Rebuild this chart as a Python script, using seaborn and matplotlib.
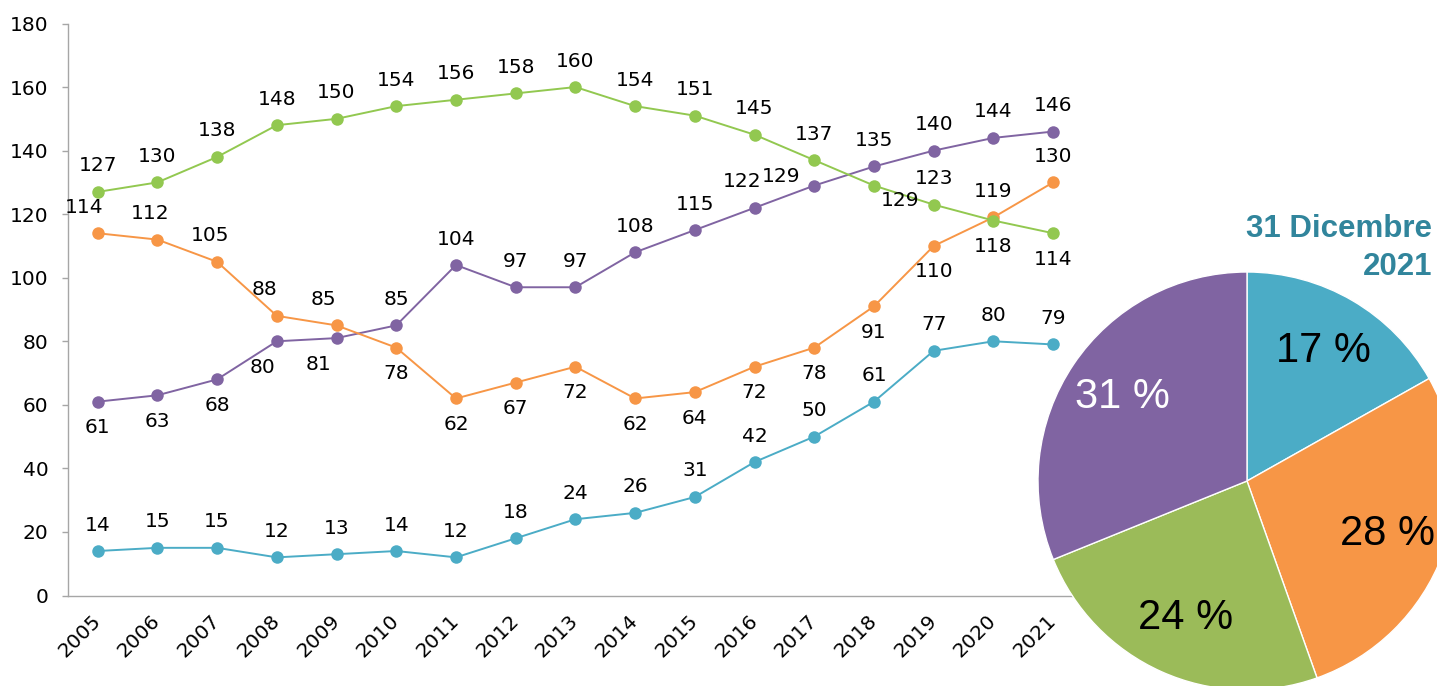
import matplotlib
matplotlib.use('Agg')
import matplotlib.pyplot as plt
import pandas as pd
import seaborn as sns

# Data
years = ['2005', '2006', '2007', '2008', '2009', '2010', '2011', '2012', '2013',
         '2014', '2015', '2016', '2017', '2018', '2019', '2020', '2021']
blue = [14, 15, 15, 12, 13, 14, 12, 18, 24, 26, 31, 42, 50, 61, 77, 80, 79]
orange = [114, 112, 105, 88, 85, 78, 62, 67, 72, 62, 64, 72, 78, 91, 110, 119, 130]
purple = [61, 63, 68, 80, 81, 85, 104, 97, 97, 108, 115, 122, 129, 135, 140, 144, 146]
green = [127, 130, 138, 148, 150, 154, 156, 158, 160, 154, 151, 145, 137, 129, 123, 118, 114]

series = {'blue': blue, 'purple': purple, 'orange': orange, 'green': green}
line_colors = {'blue': '#4BACC6', 'purple': '#8064A2', 'orange': '#F79646', 'green': '#92C850'}
pie_order = ['blue', 'orange', 'green', 'purple']
pie_colors = ['#4BACC6', '#F79646', '#9BBB59', '#8064A2']

# label placement: a = above, b = below, plus a few nudged labels (pixels)
place = {
    'blue': 'a' * 17,
    'purple': 'bbbbb' + 'a' * 12,
    'orange': 'aaaaa' + 'b' * 10 + 'aa',
    'green': 'a' * 13 + 'babb',
}
nudge = {('orange', 0): (-14, 0), ('orange', 1): (-7, 0), ('orange', 2): (-7, 0),
         ('orange', 3): (-12, 0), ('orange', 4): (-13, 0),
         ('purple', 3): (-14, 0), ('purple', 4): (-18, 0),
         ('purple', 11): (-12, 0), ('purple', 12): (-33, -17),
         ('green', 13): (26, 11)}

rows = []
for name, vals in series.items():
    for i, v in enumerate(vals):
        rows.append({'pos': i, 'value': v, 'serie': name})
df = pd.DataFrame(rows)

sns.set_style('white')
plt.rcParams['font.family'] = ['DejaVu Sans']
plt.rcParams['text.color'] = 'black'
plt.rcParams['xtick.color'] = 'black'
plt.rcParams['ytick.color'] = 'black'

W, H = 1437, 686
fig = plt.figure(figsize=(W / 100, H / 100), dpi=100)
ax = fig.add_axes([67.8 / W, 1 - 595.5 / H, (1083 - 67.8) / W, (595.5 - 23.5) / H])

sns.lineplot(data=df, x='pos', y='value', hue='serie', hue_order=list(series.keys()),
             palette=line_colors, marker='o', markersize=9, markeredgewidth=0,
             linewidth=1.4, legend=False, ax=ax)

ax.set_xlim(-0.5, 16.5)
ax.set_ylim(0, 180)
ax.set_yticks(range(0, 181, 20))
ax.set_xticks(range(len(years)))
ax.set_xticklabels(years, rotation=45, ha='right', va='center', rotation_mode='anchor')
ax.set_xticks([i - 0.5 for i in range(len(years) + 1)], minor=True)
ax.tick_params(axis='x', which='major', length=0, pad=16, labelsize=14.5, labelcolor='black')
ax.tick_params(axis='x', which='minor', length=5, color='#A6A6A6', width=1)
ax.tick_params(axis='y', length=4.5, color='#A6A6A6', width=1, pad=9.5, labelsize=14.5,
               labelcolor='black', left=True)
ax.set_xlabel('')
ax.set_ylabel('')
for s in ['top', 'right']:
    ax.spines[s].set_visible(False)
for s in ['left', 'bottom']:
    ax.spines[s].set_color('#A6A6A6')
    ax.spines[s].set_linewidth(1)

# data labels
for name, vals in series.items():
    for i, v in enumerate(vals):
        dy = 26 if place[name][i] == 'a' else -26
        dx = 0
        if (name, i) in nudge:
            dx, extra = nudge[(name, i)]
            dy += extra
        ax.annotate(str(v), (i, v), xytext=(dx, dy), textcoords='offset pixels',
                    ha='center', va='center', fontsize=14.5, color='black')

# title over the pie
fig.text(1432 / W, 1 - 236.7 / H, '31 Dicembre', ha='right', va='baseline', fontsize=22.5,
         fontweight='bold', color='#31859C', family='Liberation Sans')
fig.text(1432 / W, 1 - 275 / H, '2021', ha='right', va='baseline', fontsize=22.5,
         fontweight='bold', color='#31859C', family='Liberation Sans')

# pie of the last year
pie_vals = [series[k][-1] for k in pie_order]
R = 209
pax = fig.add_axes([(1247 - R) / W, (H - 481 - R) / H, 2 * R / W, 2 * R / H])
wedges, texts, autotexts = pax.pie(pie_vals, colors=pie_colors, startangle=90, counterclock=False,
                                   autopct=lambda p: f'{p:.0f} %', pctdistance=0.72,
                                   wedgeprops=dict(edgecolor='white', linewidth=1),
                                   textprops=dict(fontsize=30, family='Liberation Sans',
                                                  color='black'))
autotexts[3].set_color('white')
pax.set_xlim(-1, 1)
pax.set_ylim(-1, 1)

fig.savefig('out.png', dpi=100)
